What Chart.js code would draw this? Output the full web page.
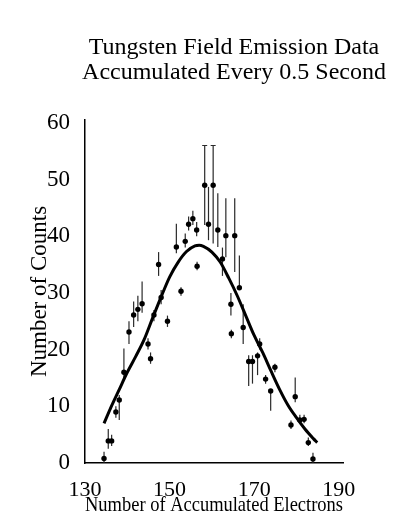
<!DOCTYPE html>
<html>
<head>
<meta charset="utf-8">
<title>Tungsten Field Emission Data</title>
<script src="https://cdn.jsdelivr.net/npm/chart.js@4.4.1/dist/chart.umd.min.js"></script>
<style>
  html, body { margin: 0; padding: 0; background: #fff; }
  #wrap { width: 404px; height: 519px; }
</style>
</head>
<body>
<div id="wrap"><canvas id="chart" width="404" height="519"></canvas></div>
<script>
// measured points: electrons counted in a 0.5 s window -> how often it happened
const electrons = [134.5, 135.5, 136.3, 137.3, 138.1, 139.2, 140.4, 141.5, 142.5, 143.5,
  144.9, 145.5, 146.3, 147.4, 148.0, 149.5, 151.6, 152.7, 153.7, 154.5,
  155.5, 156.4, 156.5, 158.3, 159.2, 160.3, 161.4, 162.5, 163.3, 164.5,
  164.6, 165.4, 166.5, 167.4, 168.7, 169.6, 170.8, 171.3, 172.7, 173.9,
  174.9, 178.7, 179.7, 180.8, 181.8, 182.8, 183.9];

const counts = [0.8, 3.9, 3.9, 9.0, 11.1, 16.0, 23.1, 26.1, 27.1, 28.1,
  21.0, 18.4, 26.1, 35.0, 29.2, 25.0, 38.1, 30.3, 39.1, 42.1,
  43.1, 41.1, 34.7, 49.0, 42.1, 49.0, 41.1, 36.0, 40.1, 28.0,
  22.8, 40.1, 30.9, 23.9, 17.9, 17.9, 18.9, 21.0, 14.8, 12.7,
  16.9, 6.7, 11.7, 7.6, 7.7, 3.6, 0.7];

// error bar ends, same order as above
const errLow = [0, 2.5, 3, 8, 7.6, 15, 21, 24, 25, 26.5,
  20, 17.5, 25, 33, 28, 24, 37, 29.5, 38, 41,
  42, 40, 34, 42, 39.3, 38.7, 38.1, 33, 36.3, 26,
  22, 33.7, 30.9, 21, 13.6, 14, 15.5, 20, 14, 9.2,
  16, 6, 10.7, 7, 7, 3, 0];

const errHigh = [2, 6, 5, 10, 12, 20.2, 25, 28.5, 29.5, 32,
  22, 19.5, 27, 37.2, 30.5, 26, 42.2, 31, 40.5, 43.5,
  44.5, 42.5, 35.5, 56, 48.7, 56, 47.6, 38, 46.7, 30,
  23.5, 46.7, 36.6, 28, 19, 19, 19.5, 22, 15.5, 13,
  17.5, 7.5, 15.1, 8.5, 8.5, 4.5, 1.8];

// fitted curve
const fitElectrons = [134.5, 136, 138, 140, 142, 144, 146, 148, 150, 152, 154, 156, 157, 158,
  160, 162, 164, 166, 168, 170, 172, 174, 176, 178, 180, 182, 184, 184.9];
const fitCounts = [7.0, 9.6, 12.8, 16.0, 18.8, 21.8, 25.6, 29.3, 32.8, 35.4, 37.3, 38.3, 38.4, 38.2,
  37.2, 35.4, 32.6, 29.5, 26.0, 22.5, 19.5, 16.2, 13.0, 10.2, 8.0, 6.0, 4.3, 3.6];

const xTicks = [130, 150, 170, 190];
const yTicks = [0, 10, 20, 30, 40, 50, 60];
const titleLines = ['Tungsten Field Emission Data', 'Accumulated Every 0.5 Second'];

const SERIF = '"Liberation Serif", "DejaVu Serif", serif';

/**
 * vertical error bars, placed with the chart scales
 */
const errorBarsPlugin = {
  id: 'errorBars',
  beforeDatasetsDraw (chart) {
    const { ctx, scales: { x, y } } = chart;
    ctx.save();
    ctx.strokeStyle = '#2a2a2a';
    ctx.lineWidth = 1.2;
    electrons.forEach((e, i) => {
      const px = x.getPixelForValue(e);
      const top = y.getPixelForValue(errHigh[i]);
      const bottom = y.getPixelForValue(errLow[i]);
      ctx.beginPath();
      ctx.moveTo(px, top);
      ctx.lineTo(px, bottom);
      // only the tall bars have caps in the original
      if (errHigh[i] >= 55) {
        ctx.moveTo(px - 2.5, top);
        ctx.lineTo(px + 2.5, top);
      }
      ctx.stroke();
    });
    ctx.restore();
  }
};

/**
 * two-line heading, sits a bit right of centre like the scan
 */
const headingPlugin = {
  id: 'heading',
  afterDraw (chart) {
    const { ctx } = chart;
    ctx.save();
    ctx.font = '24px ' + SERIF;
    ctx.fillStyle = '#000';
    ctx.textAlign = 'center';
    ctx.textBaseline = 'alphabetic';
    titleLines.forEach((line, i) => ctx.fillText(line, 234, 54 + i * 25));
    ctx.restore();
  }
};

const ctx = document.getElementById('chart').getContext('2d');

const chart = new Chart(ctx, {
  type: 'scatter',
  data: {
    datasets: [
      {
        label: 'counts',
        data: electrons.map((e, i) => ({ x: e, y: counts[i] })),
        pointRadius: 2.7,
        pointHoverRadius: 2.7,
        pointBackgroundColor: '#000',
        pointBorderWidth: 0,
        showLine: false
      },
      {
        label: 'fit',
        type: 'line',
        data: fitElectrons.map((e, i) => ({ x: e, y: fitCounts[i] })),
        borderColor: '#000',
        borderWidth: 3,
        pointRadius: 0,
        cubicInterpolationMode: 'monotone',
        fill: false
      }
    ]
  },
  options: {
    responsive: false,
    animation: false,
    devicePixelRatio: 1,
    layout: {
      padding: { top: 120, right: 61, bottom: 0, left: 0 }
    },
    plugins: {
      legend: { display: false },
      tooltip: { enabled: false },
      title: { display: false }
    },
    scales: {
      x: {
        type: 'linear',
        min: 130,
        max: 191,
        afterBuildTicks: scale => { scale.ticks = xTicks.map(v => ({ value: v })); },
        afterFit: scale => { scale.height = 56; },
        grid: { display: false },
        border: { color: '#000', width: 1.5 },
        ticks: { color: '#000', font: { family: SERIF, size: 22 }, padding: 6, maxRotation: 0 },
        title: {
          display: true,
          text: 'Number of Accumulated Electrons',
          color: '#000',
          font: { family: SERIF, size: 21 },
          padding: { top: 0, bottom: 1 }
        }
      },
      y: {
        min: 0,
        max: 60.5,
        afterBuildTicks: scale => { scale.ticks = yTicks.map(v => ({ value: v })); },
        afterFit: scale => { scale.width = 85; },
        grid: { display: false },
        border: { color: '#000', width: 1.5 },
        ticks: { color: '#000', font: { family: SERIF, size: 23 }, padding: 7 },
        title: {
          display: true,
          text: 'Number of Counts',
          color: '#000',
          font: { family: SERIF, size: 23 },
          padding: { top: 26, bottom: 0 }
        }
      }
    }
  },
  plugins: [errorBarsPlugin, headingPlugin]
});
</script>
</body>
</html>
